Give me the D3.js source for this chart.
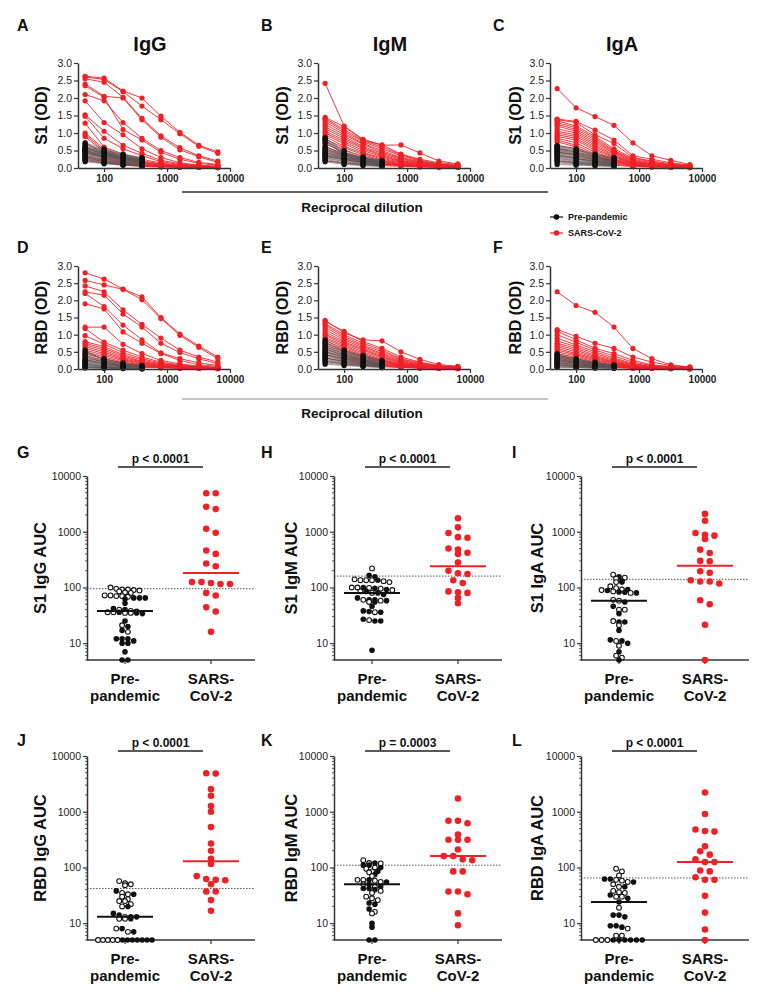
<!DOCTYPE html>
<html><head><meta charset="utf-8">
<script src="https://cdn.jsdelivr.net/npm/d3@7"></script>
<style>body{margin:0;background:#fff} svg{display:block} text{font-family:"Liberation Sans",Arial,sans-serif}</style>
</head><body><svg id="c" width="767" height="1000"></svg>
<script>
// ---------- DATA ----------
const dilutions = [50,100,200,400,800,1600,3200,6400];
const preDilutions = [50,100,200,400];
const xTickValues = [100,1000,10000];
const odTicks = [0,0.5,1.0,1.5,2.0,2.5,3.0];
const aucTicks = [10,100,1000,10000];
const groups = ["Pre-pandemic","SARS-CoV-2"];
const groupLabels = [["Pre-","pandemic"],["SARS-","CoV-2"]];
const titles = ["IgG","IgM","IgA"];

// A: S1 IgG
const s1IgG_sars = [
[2.62,2.57,2.20,2.00,1.48,1.02,0.65,0.46],[2.60,2.53,2.18,1.77,1.38,0.98,0.62,0.42],
[2.55,2.45,2.02,1.42,0.92,0.58,0.35,0.20],[2.40,2.05,2.00,1.38,0.88,0.52,0.32,0.16],
[2.35,2.02,1.10,0.80,0.45,0.25,0.13,0.08],[2.10,1.92,1.30,0.85,0.50,0.30,0.16,0.10],
[1.92,1.30,0.95,0.55,0.30,0.15,0.08,0.05],[1.52,1.05,0.65,0.42,0.22,0.12,0.07,0.04],
[1.48,0.85,0.55,0.35,0.18,0.10,0.06,0.04],[1.28,0.60,0.40,0.25,0.14,0.08,0.05,0.03],
[1.00,0.55,0.35,0.20,0.12,0.07,0.04,0.03],[0.95,0.50,0.30,0.18,0.10,0.06,0.04,0.03],
[0.90,0.45,0.28,0.15,0.08,0.05,0.03,0.02],[0.72,0.42,0.25,0.14,0.08,0.05,0.03,0.02],
[0.60,0.38,0.22,0.12,0.07,0.04,0.03,0.02],[0.50,0.32,0.18,0.10,0.06,0.04,0.03,0.02],
[0.45,0.28,0.15,0.08,0.05,0.03,0.02,0.02],[0.35,0.22,0.12,0.07,0.04,0.03,0.02,0.02],
[0.30,0.18,0.10,0.06,0.04,0.03,0.02,0.01],[0.25,0.15,0.08,0.05,0.03,0.02,0.02,0.01]];
const s1IgG_pre = [
[0.72,0.55,0.40,0.30],[0.68,0.50,0.38,0.28],[0.65,0.52,0.35,0.25],[0.62,0.48,0.36,0.27],
[0.60,0.45,0.33,0.24],[0.58,0.47,0.30,0.22],[0.56,0.44,0.32,0.25],[0.55,0.42,0.30,0.20],
[0.53,0.40,0.28,0.22],[0.52,0.43,0.31,0.24],[0.50,0.38,0.27,0.18],[0.49,0.40,0.29,0.21],
[0.48,0.36,0.25,0.20],[0.46,0.38,0.28,0.17],[0.45,0.35,0.24,0.19],[0.44,0.33,0.22,0.15],
[0.42,0.34,0.26,0.18],[0.40,0.30,0.20,0.14],[0.38,0.32,0.23,0.16],[0.36,0.28,0.18,0.12],
[0.34,0.25,0.17,0.12],[0.32,0.24,0.15,0.10],[0.30,0.22,0.14,0.10],[0.28,0.20,0.12,0.08],
[0.25,0.18,0.12,0.08],[0.22,0.15,0.10,0.06],[0.20,0.14,0.09,0.06],[0.18,0.12,0.08,0.05]];

// B: S1 IgM
const s1IgM_sars = [
[2.42,1.20,0.82,0.66,0.40,0.25,0.15,0.10],[1.45,1.18,0.80,0.65,0.66,0.43,0.20,0.12],
[1.42,1.10,0.78,0.60,0.38,0.22,0.12,0.08],[1.38,1.05,0.75,0.55,0.35,0.20,0.11,0.07],
[1.32,1.00,0.70,0.50,0.30,0.18,0.10,0.06],[1.25,0.95,0.68,0.45,0.28,0.16,0.09,0.06],
[1.18,0.90,0.62,0.42,0.25,0.15,0.08,0.05],[1.12,0.85,0.58,0.38,0.22,0.13,0.07,0.05],
[1.05,0.80,0.55,0.35,0.20,0.12,0.07,0.04],[1.00,0.75,0.50,0.32,0.18,0.10,0.06,0.04],
[0.95,0.70,0.45,0.28,0.16,0.09,0.05,0.04],[0.90,0.62,0.42,0.25,0.14,0.08,0.05,0.03],
[0.82,0.58,0.38,0.22,0.12,0.07,0.04,0.03],[0.75,0.52,0.33,0.20,0.11,0.06,0.04,0.03],
[0.70,0.45,0.28,0.17,0.10,0.06,0.04,0.03],[0.62,0.40,0.25,0.15,0.09,0.05,0.03,0.02],
[0.55,0.35,0.22,0.13,0.08,0.05,0.03,0.02],[0.45,0.30,0.18,0.11,0.07,0.04,0.03,0.02],
[0.35,0.25,0.15,0.10,0.06,0.04,0.03,0.02],[0.20,0.15,0.10,0.07,0.05,0.03,0.02,0.02]];
const s1IgM_pre = [
[0.87,0.45,0.30,0.20],[0.85,0.50,0.32,0.22],[0.82,0.42,0.28,0.18],[0.80,0.40,0.25,0.15],
[0.75,0.38,0.30,0.20],[0.70,0.42,0.28,0.18],[0.62,0.35,0.22,0.15],[0.58,0.40,0.25,0.16],
[0.55,0.38,0.24,0.14],[0.52,0.34,0.22,0.12],[0.50,0.32,0.20,0.13],[0.48,0.35,0.21,0.12],
[0.45,0.30,0.18,0.10],[0.42,0.28,0.17,0.11],[0.40,0.26,0.16,0.10],[0.38,0.30,0.20,0.12],
[0.36,0.24,0.15,0.09],[0.34,0.22,0.14,0.08],[0.32,0.25,0.16,0.10],[0.30,0.20,0.12,0.08],
[0.28,0.18,0.10,0.06],[0.25,0.15,0.09,0.06],[0.22,0.12,0.08,0.05],[0.18,0.10,0.07,0.04]];

// C: S1 IgA
const s1IgA_sars = [
[2.27,1.72,1.47,1.22,0.72,0.35,0.22,0.10],[1.40,1.33,1.08,0.80,0.35,0.25,0.15,0.08],
[1.38,1.30,0.95,0.70,0.30,0.20,0.12,0.07],[1.35,1.20,0.90,0.55,0.28,0.18,0.10,0.06],
[1.30,1.15,0.85,0.50,0.25,0.15,0.09,0.05],[1.25,1.10,0.80,0.48,0.22,0.13,0.08,0.05],
[1.20,1.05,0.75,0.45,0.20,0.12,0.07,0.04],[1.12,1.00,0.70,0.42,0.18,0.10,0.06,0.04],
[1.05,0.95,0.65,0.38,0.16,0.09,0.05,0.04],[1.00,0.90,0.60,0.35,0.15,0.08,0.05,0.03],
[0.95,0.85,0.55,0.32,0.14,0.08,0.04,0.03],[0.90,0.80,0.50,0.30,0.13,0.07,0.04,0.03],
[0.85,0.72,0.45,0.26,0.12,0.06,0.04,0.03],[0.80,0.65,0.40,0.24,0.10,0.06,0.03,0.02],
[0.75,0.60,0.35,0.22,0.09,0.05,0.03,0.02],[0.65,0.55,0.32,0.20,0.08,0.05,0.03,0.02],
[0.55,0.45,0.28,0.18,0.07,0.04,0.03,0.02],[0.45,0.38,0.22,0.15,0.06,0.04,0.02,0.02],
[0.35,0.28,0.18,0.12,0.05,0.03,0.02,0.02],[0.20,0.15,0.10,0.08,0.04,0.03,0.02,0.01]];
const s1IgA_pre = [
[0.65,0.55,0.40,0.30],[0.62,0.52,0.38,0.28],[0.60,0.50,0.35,0.25],[0.58,0.45,0.33,0.22],
[0.56,0.48,0.30,0.20],[0.54,0.42,0.28,0.18],[0.52,0.40,0.30,0.20],[0.50,0.38,0.26,0.17],
[0.48,0.36,0.25,0.16],[0.46,0.35,0.24,0.15],[0.44,0.32,0.22,0.14],[0.42,0.30,0.20,0.13],
[0.40,0.28,0.19,0.12],[0.38,0.26,0.18,0.11],[0.35,0.25,0.16,0.10],[0.32,0.22,0.15,0.10],
[0.30,0.20,0.14,0.09],[0.28,0.18,0.12,0.08],[0.25,0.16,0.11,0.08],[0.22,0.14,0.10,0.07],
[0.18,0.12,0.09,0.06],[0.15,0.10,0.08,0.05],[0.10,0.08,0.06,0.04]];

// D: RBD IgG
const rbdIgG_sars = [
[2.80,2.62,2.33,2.10,1.50,1.02,0.67,0.35],[2.58,2.45,2.32,2.02,1.47,0.98,0.63,0.30],
[2.42,2.25,1.72,1.30,0.90,0.55,0.35,0.20],[2.25,2.15,1.60,1.22,0.75,0.48,0.30,0.15],
[2.20,1.82,1.28,0.85,0.47,0.30,0.18,0.10],[1.90,1.75,1.08,0.75,0.45,0.25,0.12,0.08],
[1.22,1.22,0.72,0.45,0.25,0.15,0.08,0.05],[1.18,0.78,0.55,0.35,0.20,0.12,0.07,0.04],
[0.97,0.72,0.48,0.30,0.17,0.10,0.06,0.04],[0.80,0.65,0.42,0.26,0.15,0.09,0.05,0.03],
[0.75,0.60,0.38,0.22,0.13,0.08,0.05,0.03],[0.70,0.55,0.34,0.20,0.12,0.07,0.04,0.03],
[0.65,0.50,0.30,0.18,0.10,0.06,0.04,0.03],[0.60,0.45,0.27,0.16,0.09,0.05,0.03,0.02],
[0.55,0.40,0.24,0.14,0.08,0.05,0.03,0.02],[0.50,0.35,0.20,0.12,0.07,0.04,0.03,0.02],
[0.45,0.30,0.18,0.10,0.06,0.04,0.03,0.02],[0.40,0.25,0.15,0.09,0.05,0.03,0.02,0.02],
[0.35,0.20,0.12,0.07,0.04,0.03,0.02,0.01],[0.28,0.15,0.09,0.05,0.03,0.02,0.02,0.01]];
const rbdIgG_pre = [
[0.55,0.25,0.15,0.10],[0.50,0.28,0.18,0.10],[0.45,0.30,0.15,0.08],[0.40,0.22,0.12,0.06],
[0.35,0.20,0.10,0.05],[0.30,0.22,0.15,0.08],[0.28,0.18,0.10,0.06],[0.26,0.15,0.08,0.05],
[0.24,0.16,0.10,0.05],[0.22,0.14,0.08,0.04],[0.20,0.12,0.07,0.04],[0.18,0.10,0.06,0.03],
[0.16,0.10,0.06,0.03],[0.15,0.08,0.05,0.03],[0.13,0.07,0.04,0.02],[0.12,0.06,0.04,0.02],
[0.10,0.05,0.03,0.02],[0.08,0.05,0.03,0.02],[0.06,0.04,0.02,0.01],[0.05,0.03,0.02,0.01],
[0.04,0.03,0.02,0.01],[0.03,0.02,0.01,0.01]];

// E: RBD IgM
const rbdIgM_sars = [
[1.42,1.05,0.85,0.82,0.50,0.28,0.13,0.08],[1.38,1.10,0.80,0.60,0.35,0.20,0.10,0.06],
[1.32,1.00,0.75,0.55,0.30,0.18,0.09,0.05],[1.28,0.95,0.70,0.50,0.28,0.16,0.08,0.05],
[1.22,0.90,0.66,0.45,0.25,0.14,0.07,0.04],[1.15,0.85,0.62,0.42,0.22,0.12,0.06,0.04],
[1.08,0.80,0.58,0.38,0.20,0.11,0.06,0.04],[1.02,0.76,0.55,0.35,0.18,0.10,0.05,0.03],
[0.98,0.72,0.50,0.32,0.16,0.09,0.05,0.03],[0.92,0.68,0.46,0.28,0.14,0.08,0.05,0.03],
[0.88,0.64,0.42,0.26,0.13,0.07,0.04,0.03],[0.82,0.60,0.38,0.24,0.12,0.06,0.04,0.03],
[0.76,0.55,0.35,0.22,0.11,0.06,0.04,0.02],[0.70,0.50,0.32,0.20,0.10,0.05,0.03,0.02],
[0.64,0.45,0.28,0.17,0.09,0.05,0.03,0.02],[0.58,0.40,0.25,0.15,0.08,0.04,0.03,0.02],
[0.50,0.35,0.22,0.13,0.07,0.04,0.03,0.02],[0.42,0.30,0.18,0.11,0.06,0.04,0.02,0.02],
[0.32,0.22,0.14,0.09,0.05,0.03,0.02,0.01],[0.22,0.15,0.10,0.07,0.04,0.03,0.02,0.01]];
const rbdIgM_pre = [
[0.85,0.55,0.40,0.25],[0.80,0.50,0.35,0.22],[0.75,0.52,0.38,0.24],[0.70,0.48,0.32,0.20],
[0.66,0.45,0.30,0.18],[0.62,0.42,0.28,0.17],[0.58,0.40,0.27,0.16],[0.55,0.38,0.25,0.15],
[0.52,0.36,0.24,0.14],[0.50,0.34,0.22,0.13],[0.47,0.32,0.21,0.12],[0.44,0.30,0.20,0.12],
[0.42,0.28,0.18,0.11],[0.40,0.27,0.17,0.10],[0.37,0.25,0.16,0.10],[0.34,0.23,0.15,0.09],
[0.31,0.21,0.13,0.08],[0.28,0.19,0.12,0.07],[0.25,0.17,0.11,0.07],[0.22,0.15,0.10,0.06],
[0.18,0.12,0.08,0.05],[0.14,0.10,0.07,0.04]];

// F: RBD IgA
const rbdIgA_sars = [
[2.25,1.85,1.65,1.22,0.60,0.30,0.12,0.06],[1.15,0.95,0.75,0.60,0.35,0.20,0.10,0.05],
[1.10,0.85,0.60,0.45,0.25,0.12,0.07,0.04],[1.00,0.78,0.55,0.38,0.20,0.10,0.06,0.04],
[0.90,0.70,0.50,0.32,0.16,0.08,0.05,0.03],[0.82,0.65,0.45,0.28,0.14,0.07,0.04,0.03],
[0.75,0.60,0.40,0.25,0.12,0.06,0.04,0.03],[0.70,0.55,0.36,0.22,0.10,0.06,0.04,0.02],
[0.65,0.50,0.33,0.20,0.09,0.05,0.03,0.02],[0.60,0.45,0.30,0.18,0.08,0.05,0.03,0.02],
[0.55,0.42,0.27,0.16,0.07,0.04,0.03,0.02],[0.50,0.38,0.24,0.14,0.07,0.04,0.03,0.02],
[0.45,0.34,0.21,0.12,0.06,0.04,0.02,0.02],[0.40,0.30,0.18,0.10,0.05,0.03,0.02,0.02],
[0.36,0.26,0.16,0.09,0.05,0.03,0.02,0.01],[0.32,0.22,0.14,0.08,0.04,0.03,0.02,0.01],
[0.28,0.19,0.12,0.07,0.04,0.03,0.02,0.01],[0.24,0.16,0.10,0.06,0.03,0.02,0.02,0.01],
[0.18,0.12,0.08,0.05,0.03,0.02,0.01,0.01],[0.12,0.08,0.06,0.04,0.02,0.02,0.01,0.01]];
const rbdIgA_pre = [
[0.45,0.30,0.20,0.12],[0.42,0.28,0.18,0.11],[0.40,0.26,0.17,0.10],[0.38,0.25,0.16,0.10],
[0.35,0.24,0.15,0.09],[0.33,0.22,0.14,0.08],[0.30,0.20,0.13,0.08],[0.28,0.19,0.12,0.07],
[0.26,0.18,0.11,0.07],[0.24,0.16,0.10,0.06],[0.22,0.15,0.09,0.06],[0.20,0.13,0.08,0.05],
[0.18,0.12,0.07,0.05],[0.16,0.11,0.07,0.04],[0.14,0.10,0.06,0.04],[0.12,0.08,0.05,0.03],
[0.10,0.07,0.05,0.03],[0.08,0.06,0.04,0.03],[0.06,0.05,0.03,0.02],[0.05,0.04,0.03,0.02]];

// G-L: AUC values (open = cohort 1, filled = cohort 2)
const aucS1IgG_preOpen = [100,95,92,92,90,88,85,82,80,70,70,72,72,68,36,36,35,35,37,38,40,21,16];
const aucS1IgG_preFilled = [65,65,65,62,52,36,34,40,42,35,25,20,17,12,12,12,11,10,10,7,5,5];
const aucS1IgG_sars = [4900,4900,2800,2550,1130,960,460,400,270,240,125,115,120,125,115,80,72,44,37,16];

const aucS1IgM_preOpen = [220,140,135,135,135,130,125,100,100,98,95,90,85,80,60,58,55,36,26];
const aucS1IgM_preFilled = [165,155,135,100,97,92,85,80,75,65,60,60,58,55,46,38,37,36,27,25,25,7.5];
const aucS1IgM_sars = [1750,1200,950,800,780,500,480,420,400,280,200,180,175,135,120,85,82,80,65,52];

const aucS1IgA_preOpen = [170,150,145,125,105,97,92,90,85,80,60,58,40,40,25,21,11,9,6,5.5];
const aucS1IgA_preFilled = [155,130,125,92,88,83,82,80,55,46,34,24,24,17,11.5,11,10,7,5];
const aucS1IgA_sars = [2090,1570,950,880,850,740,477,416,300,295,195,183,135,128,128,118,59,50,21.5,5];

const aucRbdIgG_preOpen = [57,52,50,48,35,33,30,27,25,25,22,20,13,12,12,8,7,5,5,5,5,5];
const aucRbdIgG_preFilled = [38,33,20,15,14,13,13,12,8,7,5,5,5,5,5,5,5];
const aucRbdIgG_sars = [4830,4900,2540,1930,1270,1000,530,270,200,143,116,59,60,70,62,50,37,37,26,16.7];

const aucRbdIgM_preOpen = [135,120,118,100,95,85,82,70,60,60,58,55,50,45,38,35,30,28,26,16,15];
const aucRbdIgM_preFilled = [120,110,110,100,85,75,60,55,50,45,42,42,40,23,22,18,10,8.5,5,5];
const aucRbdIgM_sars = [1730,690,690,620,390,315,315,315,210,160,160,140,135,85,85,37,37,33,15,9.2];

const aucRbdIgA_preOpen = [95,85,72,60,58,55,50,45,38,36,35,30,30,19,8,6,6,5,5,5];
const aucRbdIgA_preFilled = [62,62,55,45,32,28,24,14,14,13,9,9,8.5,5,5,5,5,5,5];
const aucRbdIgA_sars = [2210,910,480,450,440,240,195,170,140,125,125,85,88,60,60,67,31,15.5,7.7,5];

const cutoffs = [95,160,140,42,110,65];
const pValues = ["p < 0.0001","p < 0.0001","p < 0.0001","p < 0.0001","p = 0.0003","p < 0.0001"];

// ---------- DRAWING ----------
const FONT = '"Liberation Sans", Arial, sans-serif';
const RED = "#ee2127";
const AX = "#333";
const svg = d3.select("#c");
svg.append("rect").attr("width",767).attr("height",1000).attr("fill","#fff");

function styleAxis(g, fs, bold){
  g.attr("font-family", FONT).attr("font-size", fs).attr("font-weight", bold ? "bold" : "normal");
  g.select(".domain").attr("stroke", AX).attr("stroke-width", 1.5);
  g.selectAll(".tick line").attr("stroke", AX).attr("stroke-width", 1.2);
  g.selectAll(".tick text").attr("fill", "#222");
}
function txt(x, y, s, fs, opts={}){
  const t = svg.append("text").attr("x", x).attr("y", y).text(s)
    .attr("font-size", fs).attr("font-weight", opts.weight || "bold")
    .attr("fill", opts.fill || "#111").attr("text-anchor", opts.anchor || "start");
  if (opts.rotate) t.attr("transform", `rotate(-90,${x},${y})`).attr("dominant-baseline","central");
  return t;
}

function linePanel(o){
  const g = svg.append("g");
  const x = d3.scaleLog().domain([38.5,10000]).range([o.x0, o.x0 + 152]);
  const y = d3.scaleLinear().domain([0,3]).range([o.yb, o.yt]);
  const line = d3.line().x(d => x(d[0])).y(d => y(d[1]));
  function draw(series, dil, color, lineColor, lw){
    series.forEach(s => {
      const pts = s.map((v,i) => [dil[i], v]);
      g.append("path").attr("d", line(pts)).attr("fill","none").attr("stroke", lineColor).attr("stroke-width", lw);
      g.selectAll(null).data(pts).join("circle")
        .attr("cx", d => x(d[0])).attr("cy", d => y(d[1])).attr("r", 2.6).attr("fill", color);
    });
  }
  draw(o.red, dilutions, RED, RED, 0.9);
  draw(o.black, preDilutions, "#111", "#555", 0.6);
  const ya = g.append("g").attr("transform", `translate(${o.x0},0)`)
    .call(d3.axisLeft(y).tickValues(odTicks).tickFormat(d3.format(".1f")).tickSize(4).tickSizeOuter(0).tickPadding(2));
  styleAxis(ya, 10.5, false);
  const xa = g.append("g").attr("transform", `translate(0,${o.yb})`)
    .call(d3.axisBottom(x).tickValues(xTickValues).tickFormat(d3.format("d")).tickSize(4).tickSizeOuter(0).tickPadding(3));
  styleAxis(xa, 10, true);
  txt(o.lx, o.ly, o.letter, 16);
  if (o.title) txt(o.x0 + 72, o.yt - 12, o.title, 20, {anchor:"middle"});
  txt(o.ylx, (o.yt + o.yb)/2, o.ylabel, 16, {anchor:"middle", rotate:true});
}

function layoutGroup(vals, cx, y, spacing, binH, maxW){
  const pts = vals.map(p => Object.assign({}, p, {py: y(p.v)})).sort((a,b) => a.py - b.py);
  const rows = []; let cur = null;
  pts.forEach(p => {
    if (!cur || p.py - cur.start > binH){ cur = {start: p.py, items: []}; rows.push(cur); }
    cur.items.push(p);
  });
  rows.forEach(r => {
    const n = r.items.length;
    const sp = n > 1 ? Math.min(spacing, maxW / (n - 1)) : 0;
    r.items.forEach((p,i) => { p.px = cx + (i - (n-1)/2) * sp; });
  });
  return pts;
}

function scatterPanel(o){
  const g = svg.append("g");
  const y = d3.scaleLog().domain([5,10000]).range([o.yb, o.yt]);
  const x = d3.scalePoint().domain(groups).range([o.x0 + 38, o.x0 + 124]);
  const xEnd = o.x0 + 168;
  g.append("line").attr("x1", o.x0).attr("x2", xEnd).attr("y1", y(o.cutoff)).attr("y2", y(o.cutoff))
    .attr("stroke", "#555").attr("stroke-width", 1).attr("stroke-dasharray", "1.5,1.5");
  const ya = g.append("g").attr("transform", `translate(${o.x0},0)`)
    .call(d3.axisLeft(y).tickValues(aucTicks).tickFormat(d3.format("d")).tickSize(4).tickSizeOuter(0).tickPadding(2));
  styleAxis(ya, 10.5, false);
  const minor = [];
  [1,10,100,1000].forEach(dec => d3.range(2,10).forEach(k => { const v = dec*k; if (v >= 5 && v < 10000) minor.push(v); }));
  g.selectAll(null).data(minor).join("line")
    .attr("x1", o.x0 - 2).attr("x2", o.x0).attr("y1", d => y(d)).attr("y2", d => y(d))
    .attr("stroke", AX).attr("stroke-width", 0.8);
  g.append("line").attr("x1", o.x0).attr("x2", xEnd).attr("y1", o.yb).attr("y2", o.yb)
    .attr("stroke", AX).attr("stroke-width", 1.5);
  g.selectAll(null).data(groups).join("line")
    .attr("x1", d => x(d)).attr("x2", d => x(d)).attr("y1", o.yb).attr("y2", o.yb + 4)
    .attr("stroke", AX).attr("stroke-width", 1.2);
  groups.forEach((gname, i) => {
    groupLabels[i].forEach((s, j) => txt(x(gname), o.yb + 24 + j*17, s, 15, {anchor:"middle"}));
  });
  const pre = o.preOpen.map(v => ({v, open:true})).concat(o.preFilled.map(v => ({v, open:false})));
  const prePts = layoutGroup(pre, x(groups[0]), y, 5.8, 3.5, 54);
  g.selectAll(null).data(prePts).join("circle")
    .attr("cx", d => d.px).attr("cy", d => d.py).attr("r", d => d.open ? 2.4 : 2.8)
    .attr("fill", d => d.open ? "#fff" : "#111").attr("stroke", "#111").attr("stroke-width", d => d.open ? 1.1 : 0);
  const sarsPts = layoutGroup(o.sars.map(v => ({v})), x(groups[1]), y, 9.5, 5, 60);
  g.selectAll(null).data(sarsPts).join("circle")
    .attr("cx", d => d.px).attr("cy", d => d.py).attr("r", 3.3).attr("fill", RED);
  const mPre = d3.median(pre, d => d.v), mS = d3.median(o.sars);
  g.append("line").attr("x1", x(groups[0]) - 28).attr("x2", x(groups[0]) + 28).attr("y1", y(mPre)).attr("y2", y(mPre))
    .attr("stroke", "#111").attr("stroke-width", 2);
  g.append("line").attr("x1", x(groups[1]) - 28).attr("x2", x(groups[1]) + 28).attr("y1", y(mS)).attr("y2", y(mS))
    .attr("stroke", RED).attr("stroke-width", 2);
  const bx1 = o.x0 + 31, bx2 = o.x0 + 116;
  g.append("line").attr("x1", bx1).attr("x2", bx2).attr("y1", o.barY).attr("y2", o.barY).attr("stroke", "#222").attr("stroke-width", 1.3);
  txt((bx1 + bx2)/2, o.barY - 4, o.p, 12, {anchor:"middle"});
  txt(o.lx, o.ly, o.letter, 16);
  txt(o.ylx, (o.yt + o.yb)/2, o.ylabel, 16.5, {anchor:"middle", rotate:true});
}

const colX = [78, 318, 550];
const colLY = [41, 282, 515];
const colLetterX = [17, 261, 493];
const row1 = [[s1IgG_sars, s1IgG_pre],[s1IgM_sars, s1IgM_pre],[s1IgA_sars, s1IgA_pre]];
const row2 = [[rbdIgG_sars, rbdIgG_pre],[rbdIgM_sars, rbdIgM_pre],[rbdIgA_sars, rbdIgA_pre]];
row1.forEach((d,i) => linePanel({x0: colX[i], yt: 63, yb: 168, red: d[0], black: d[1],
  letter: "ABC"[i], lx: colLetterX[i], ly: 31, title: titles[i], ylabel: "S1 (OD)", ylx: colLY[i]}));
row2.forEach((d,i) => linePanel({x0: colX[i], yt: 266, yb: 369, red: d[0], black: d[1],
  letter: "DEF"[i], lx: colLetterX[i], ly: 253, ylabel: "RBD (OD)", ylx: colLY[i]}));

svg.append("line").attr("x1",182).attr("x2",548).attr("y1",192).attr("y2",192).attr("stroke","#333").attr("stroke-width",1.5);
txt(362, 212, "Reciprocal dilution", 13.5, {anchor:"middle"});
svg.append("line").attr("x1",182).attr("x2",548).attr("y1",399).attr("y2",399).attr("stroke","#888").attr("stroke-width",1);
txt(362, 418, "Reciprocal dilution", 13.5, {anchor:"middle"});

[["Pre-pandemic","#111"],["SARS-CoV-2",RED]].forEach((d,i) => {
  const yy = 217 + i*16;
  svg.append("line").attr("x1",550).attr("x2",563).attr("y1",yy).attr("y2",yy).attr("stroke",d[1]).attr("stroke-width",1.2);
  svg.append("circle").attr("cx",556.5).attr("cy",yy).attr("r",2.8).attr("fill",d[1]);
  txt(568, yy + 3.2, d[0], 9, {});
});

const sX = [87, 334, 581];
const sLY = [40, 291, 537];
const sLetterX = [17, 261, 512];
const aucRows = [
  [aucS1IgG_preOpen, aucS1IgG_preFilled, aucS1IgG_sars, "S1 IgG AUC"],
  [aucS1IgM_preOpen, aucS1IgM_preFilled, aucS1IgM_sars, "S1 IgM AUC"],
  [aucS1IgA_preOpen, aucS1IgA_preFilled, aucS1IgA_sars, "S1 IgA AUC"],
  [aucRbdIgG_preOpen, aucRbdIgG_preFilled, aucRbdIgG_sars, "RBD IgG AUC"],
  [aucRbdIgM_preOpen, aucRbdIgM_preFilled, aucRbdIgM_sars, "RBD IgM AUC"],
  [aucRbdIgA_preOpen, aucRbdIgA_preFilled, aucRbdIgA_sars, "RBD IgA AUC"]];
aucRows.forEach((d,k) => {
  const r = Math.floor(k/3), c = k % 3;
  scatterPanel({x0: sX[c], yt: r ? 756 : 476, yb: r ? 940 : 660, preOpen: d[0], preFilled: d[1], sars: d[2],
    ylabel: d[3], ylx: sLY[c], letter: "GHIJKL"[k], lx: sLetterX[c], ly: r ? 746 : 458,
    cutoff: cutoffs[k], p: pValues[k], barY: r ? 751 : 467});
});
</script></body></html>
